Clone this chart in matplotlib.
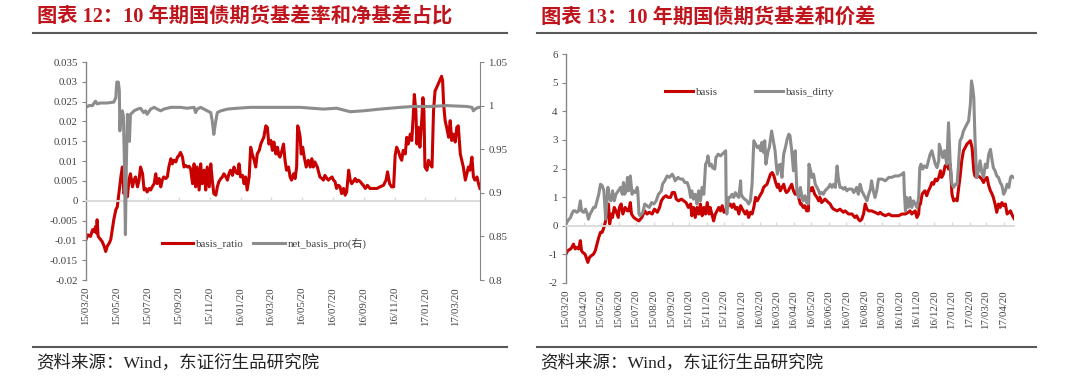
import pandas as pd
import matplotlib
matplotlib.use('Agg')
import matplotlib.pyplot as plt
from matplotlib.ticker import MultipleLocator, FuncFormatter
from matplotlib.lines import Line2D
import matplotlib.dates as mdates

plt.rcParams['font.family'] = ['Liberation Serif', 'Noto Sans CJK SC', 'DejaVu Sans']

START = '2015-03-20'
END = '2017-05-08'

left_title = '图表 12：10 年期国债期货基差率和净基差占比'
right_title = '图表 13：10 年期国债期货基差和价差'
source_text = '资料来源：Wind，东证衍生品研究院'
ratio_label = 'basis_ratio'
netpro_label = 'net_basis_pro(右)'
basis_label = 'basis'
dirty_label = 'basis_dirty'

left_ticks = ['2015-03-20', '2015-05-20', '2015-07-20', '2015-09-20', '2015-11-20',
              '2016-01-20', '2016-03-20', '2016-05-20', '2016-07-20', '2016-09-20',
              '2016-11-20', '2017-01-20', '2017-03-20']
right_ticks = ['2015-03-20', '2015-04-20', '2015-05-20', '2015-06-20', '2015-07-20',
               '2015-08-20', '2015-09-20', '2015-10-20', '2015-11-20', '2015-12-20',
               '2016-01-20', '2016-02-20', '2016-03-20', '2016-04-20', '2016-05-20',
               '2016-06-20', '2016-07-20', '2016-08-20', '2016-09-20', '2016-10-20',
               '2016-11-20', '2016-12-20', '2017-01-20', '2017-02-20', '2017-03-20',
               '2017-04-20']

# (days since START, value)
ratio_pts = [
    (0, -0.0098), (4, -0.0086), (9, -0.0090), (13, -0.0073), (16, -0.0078), (19, -0.0065),
    (21, -0.0082), (22, -0.0048), (24, -0.0090), (29, -0.0098), (32, -0.0103), (36, -0.0115),
    (39, -0.0128), (42, -0.0115), (46, -0.0107), (49, -0.0098), (52, -0.0073), (55, -0.0048),
    (59, -0.0023), (62, -0.0015), (65, 0.0018), (69, 0.0060), (72, 0.0085), (75, 0.0018),
    (79, 0.0035), (82, 0.0010), (85, 0.0052), (88, 0.0068), (92, 0.0035), (95, 0.0052),
    (98, 0.0060), (102, 0.0035), (105, 0.0052), (108, 0.0085), (112, 0.0068), (115, 0.0027),
    (118, 0.0031), (121, 0.0022), (125, 0.0031), (128, 0.0027), (131, 0.0035), (135, 0.0043),
    (138, 0.0068), (141, 0.0043), (145, 0.0056), (148, 0.0035), (151, 0.0052), (154, 0.0060),
    (158, 0.0056), (161, 0.0060), (164, 0.0085), (168, 0.0106), (171, 0.0093), (174, 0.0102),
    (178, 0.0098), (181, 0.0110), (184, 0.0114), (187, 0.0122), (191, 0.0110), (194, 0.0085),
    (197, 0.0089), (201, 0.0085), (204, 0.0087), (207, 0.0081), (211, 0.0043), (214, 0.0093),
    (217, 0.0035), (220, 0.0085), (224, 0.0027), (227, 0.0093), (230, 0.0043), (234, 0.0077),
    (237, 0.0027), (240, 0.0085), (244, 0.0035), (247, 0.0093), (250, 0.0052), (253, 0.0018),
    (257, 0.0014), (260, 0.0035), (263, 0.0048), (267, 0.0056), (270, 0.0060), (273, 0.0068),
    (277, 0.0060), (280, 0.0052), (283, 0.0068), (286, 0.0077), (290, 0.0064), (293, 0.0085),
    (296, 0.0073), (300, 0.0068), (303, 0.0093), (306, 0.0060), (310, 0.0064), (313, 0.0043),
    (316, 0.0060), (319, 0.0027), (323, 0.0060), (326, 0.0135), (329, 0.0118), (333, 0.0102),
    (336, 0.0085), (339, 0.0118), (343, 0.0127), (346, 0.0143), (349, 0.0152), (352, 0.0160),
    (356, 0.0189), (359, 0.0185), (362, 0.0143), (366, 0.0152), (369, 0.0127), (372, 0.0148),
    (376, 0.0118), (379, 0.0135), (382, 0.0114), (384, 0.0110), (388, 0.0127), (391, 0.0143),
    (394, 0.0102), (397, 0.0077), (401, 0.0085), (404, 0.0060), (407, 0.0052), (411, 0.0068),
    (414, 0.0056), (417, 0.0085), (419, 0.0189), (421, 0.0181), (424, 0.0160), (426, 0.0118),
    (429, 0.0135), (432, 0.0110), (436, 0.0085), (440, 0.0102), (444, 0.0085), (447, 0.0106),
    (450, 0.0085), (453, 0.0098), (458, 0.0085), (463, 0.0060), (467, 0.0056), (470, 0.0052),
    (473, 0.0064), (477, 0.0056), (480, 0.0052), (483, 0.0056), (487, 0.0060), (490, 0.0052),
    (493, 0.0048), (496, 0.0031), (500, 0.0039), (503, 0.0035), (506, 0.0018), (510, 0.0031),
    (513, 0.0014), (516, 0.0022), (520, 0.0077), (523, 0.0052), (526, 0.0043), (529, 0.0048),
    (533, 0.0056), (536, 0.0048), (539, 0.0052), (543, 0.0048), (546, 0.0043), (549, 0.0039),
    (553, 0.0031), (557, 0.0039), (562, 0.0031), (569, 0.0031), (576, 0.0031), (582, 0.0035),
    (589, 0.0039), (594, 0.0052), (597, 0.0073), (601, 0.0043), (605, 0.0035), (609, 0.0035),
    (612, 0.0114), (615, 0.0135), (619, 0.0123), (622, 0.0110), (625, 0.0102), (628, 0.0127),
    (632, 0.0118), (635, 0.0160), (638, 0.0143), (642, 0.0168), (645, 0.0152), (648, 0.0218),
    (650, 0.0268), (653, 0.0227), (655, 0.0143), (658, 0.0185), (661, 0.0135), (665, 0.0210),
    (667, 0.0260), (669, 0.0227), (671, 0.0085), (675, 0.0077), (678, 0.0102), (681, 0.0093),
    (685, 0.0085), (688, 0.0227), (691, 0.0277), (694, 0.0285), (700, 0.0302), (704, 0.0314),
    (706, 0.0302), (708, 0.0243), (711, 0.0202), (714, 0.0185), (718, 0.0160), (721, 0.0202),
    (724, 0.0152), (727, 0.0168), (731, 0.0148), (734, 0.0185), (737, 0.0189), (741, 0.0118),
    (744, 0.0102), (747, 0.0085), (751, 0.0052), (754, 0.0068), (757, 0.0085), (760, 0.0077),
    (764, 0.0110), (767, 0.0060), (770, 0.0052), (774, 0.0060), (777, 0.0043), (780, 0.0031),
]

netpro_pts = [
    (0, 0.998), (6, 1.000), (13, 1.000), (16, 1.003), (19, 1.005), (22, 1.002), (29, 1.003),
    (42, 1.003), (55, 1.004), (59, 1.009), (61, 1.027), (64, 1.027), (66, 1.017), (67, 0.971),
    (69, 0.992), (72, 0.994), (74, 0.988), (76, 0.936), (78, 0.852), (80, 0.936), (82, 0.990),
    (84, 0.988), (86, 0.959), (88, 0.990), (92, 0.992), (95, 0.994), (102, 0.996), (108, 0.997),
    (114, 0.992), (118, 0.994), (121, 0.990), (128, 0.996), (135, 0.998), (141, 0.996),
    (148, 0.994), (154, 0.996), (168, 0.998), (187, 0.998), (200, 0.997), (214, 0.998),
    (217, 0.992), (220, 0.996), (227, 0.998), (240, 0.994), (247, 0.992), (250, 0.982),
    (253, 0.967), (255, 0.975), (258, 0.986), (260, 0.992), (267, 0.994), (280, 0.996),
    (300, 0.997), (326, 0.998), (359, 0.998), (384, 0.998), (424, 0.998), (470, 0.996),
    (496, 0.997), (523, 0.993), (549, 0.994), (582, 0.996), (622, 0.998), (648, 0.999),
    (681, 0.999), (714, 1.000), (754, 0.999), (764, 0.998), (767, 0.994), (770, 0.996),
    (777, 0.998), (780, 0.998),
]

basis_pts = [
    (0, -0.99), (3, -0.87), (8, -0.81), (10, -0.76), (13, -0.64), (16, -0.81), (19, -0.76),
    (22, -0.81), (25, -0.52), (27, -0.87), (29, -0.93), (33, -0.99), (35, -1.10), (38, -1.28),
    (41, -1.10), (44, -1.05), (48, -0.99), (51, -0.87), (54, -0.64), (57, -0.41), (60, -0.23),
    (63, -0.23), (66, -0.06), (69, 0.17), (71, 0.41), (74, 0.76), (76, 0.06), (79, 0.41),
    (81, 0.29), (84, 0.64), (87, 0.52), (91, 0.29), (93, 0.64), (96, 0.76), (99, 0.41),
    (103, 0.64), (107, 0.52), (109, 0.52), (112, 0.81), (114, 0.41), (118, 0.29), (122, 0.23),
    (127, 0.17), (132, 0.29), (137, 0.52), (141, 0.41), (145, 0.47), (150, 0.41), (154, 0.58),
    (159, 0.47), (163, 0.64), (166, 0.87), (170, 0.99), (174, 1.05), (178, 0.99), (182, 0.99),
    (185, 1.16), (189, 1.16), (192, 0.93), (196, 0.87), (201, 0.93), (205, 0.87), (209, 0.81),
    (213, 0.64), (217, 0.76), (219, 0.35), (222, 0.64), (225, 0.29), (228, 0.64), (231, 0.41),
    (234, 0.76), (237, 0.35), (240, 0.64), (243, 0.41), (246, 0.81), (249, 0.41), (251, 0.64),
    (254, 0.41), (257, 0.17), (260, 0.41), (263, 0.52), (266, 0.64), (269, 0.52), (272, 0.70),
    (275, 0.47), (278, 0.52), (280, 0.64), (283, 0.70), (286, 0.76), (289, 0.64), (292, 0.76),
    (295, 0.58), (298, 0.64), (301, 0.41), (304, 0.70), (307, 0.58), (309, 0.52), (312, 0.41),
    (315, 0.52), (318, 0.29), (321, 0.47), (324, 0.41), (327, 0.64), (330, 0.99), (333, 0.87),
    (336, 0.99), (339, 1.10), (341, 1.16), (344, 1.34), (347, 1.40), (350, 1.45), (353, 1.63),
    (356, 1.80), (359, 1.86), (362, 1.74), (365, 1.51), (368, 1.34), (370, 1.45), (373, 1.22),
    (376, 1.34), (379, 1.45), (382, 1.22), (384, 1.16), (387, 1.22), (390, 1.34), (393, 1.45),
    (396, 1.22), (399, 1.10), (402, 1.22), (405, 0.99), (408, 0.76), (410, 0.76), (413, 0.64),
    (416, 0.70), (419, 0.52), (422, 0.52), (423, 1.34), (427, 1.22), (429, 1.34), (433, 1.10),
    (437, 0.99), (440, 0.87), (442, 0.99), (445, 0.81), (448, 0.87), (451, 0.93), (454, 0.87),
    (457, 0.81), (460, 0.76), (463, 0.64), (466, 0.58), (472, 0.52), (477, 0.58), (483, 0.47),
    (486, 0.52), (492, 0.41), (498, 0.41), (503, 0.29), (506, 0.35), (509, 0.23), (512, 0.17),
    (515, 0.23), (518, 0.41), (521, 0.76), (524, 0.58), (527, 0.52), (532, 0.52), (538, 0.47),
    (544, 0.41), (547, 0.47), (550, 0.41), (556, 0.35), (562, 0.41), (567, 0.35), (573, 0.35),
    (579, 0.35), (585, 0.41), (591, 0.41), (596, 0.47), (599, 0.52), (602, 0.41), (605, 0.47),
    (608, 0.52), (611, 0.29), (614, 0.41), (615, 0.70), (617, 0.76), (620, 1.10), (622, 1.16),
    (625, 1.22), (628, 1.05), (631, 1.22), (634, 1.34), (637, 1.51), (640, 1.45), (643, 1.63),
    (646, 1.57), (649, 1.69), (652, 1.92), (654, 1.69), (657, 1.80), (660, 2.09), (663, 2.15),
    (666, 1.98), (669, 2.15), (672, 1.10), (675, 0.87), (678, 0.93), (681, 0.87), (683, 1.22),
    (686, 1.69), (689, 2.27), (692, 2.62), (695, 2.73), (698, 2.85), (701, 2.91), (704, 2.97),
    (707, 2.73), (710, 1.92), (712, 1.74), (715, 1.69), (718, 1.74), (721, 1.69), (724, 1.63),
    (727, 1.51), (730, 1.63), (733, 1.69), (736, 1.40), (739, 1.22), (742, 1.10), (744, 0.99),
    (747, 0.76), (750, 0.47), (753, 0.76), (756, 0.64), (759, 0.81), (762, 0.70), (765, 0.76),
    (768, 0.41), (771, 0.47), (774, 0.52), (776, 0.41), (779, 0.29), (781, 0.23),
]

dirty_pts = [
    (0, 0.06), (3, 0.17), (8, 0.29), (10, 0.41), (13, 0.52), (16, 0.52), (19, 0.47), (22, 0.52),
    (25, 0.87), (27, 0.52), (31, 0.47), (34, 0.58), (37, 0.41), (39, 0.23), (42, 0.41),
    (45, 0.52), (48, 0.64), (51, 0.64), (54, 0.87), (57, 1.10), (60, 1.45), (63, 1.40),
    (66, 1.22), (69, 0.23), (70, 0.52), (73, 1.34), (75, 0.99), (78, 0.87), (81, 1.22),
    (84, 0.87), (87, 1.10), (91, 1.22), (95, 1.34), (98, 1.10), (100, 1.51), (102, 1.10),
    (105, 1.22), (107, 1.69), (109, 1.22), (112, 1.74), (115, 1.10), (118, 1.22), (121, 1.16),
    (124, 1.34), (125, 1.22), (127, 0.41), (129, 0.35), (134, 0.47), (137, 0.76), (141, 0.70),
    (145, 0.64), (149, 0.81), (153, 0.76), (157, 0.87), (161, 1.10), (166, 1.22), (168, 1.45),
    (172, 1.57), (176, 1.74), (180, 1.69), (185, 1.80), (188, 1.69), (190, 1.57), (195, 1.69),
    (199, 1.63), (203, 1.63), (207, 1.51), (211, 1.51), (214, 1.34), (217, 0.99), (219, 1.22),
    (222, 0.93), (225, 1.10), (228, 0.76), (231, 1.22), (234, 0.87), (237, 1.34), (240, 1.10),
    (243, 2.15), (246, 2.27), (247, 2.44), (250, 2.09), (253, 2.15), (255, 2.03), (259, 1.98),
    (261, 2.38), (265, 2.50), (269, 2.44), (272, 2.50), (275, 2.56), (278, 2.62), (279, 0.64),
    (280, 0.41), (283, 0.99), (286, 0.99), (289, 1.10), (292, 0.99), (295, 1.16), (298, 1.05),
    (301, 0.99), (304, 1.57), (305, 1.10), (308, 0.99), (311, 0.93), (315, 0.87), (318, 0.76),
    (321, 0.87), (324, 1.45), (327, 2.97), (330, 2.85), (333, 2.73), (336, 2.79), (339, 2.62),
    (341, 2.91), (344, 2.56), (346, 2.97), (348, 2.15), (352, 2.62), (354, 2.73), (358, 3.31),
    (360, 3.08), (364, 2.62), (366, 2.15), (368, 1.80), (370, 2.09), (373, 2.15), (376, 1.69),
    (379, 2.50), (382, 2.73), (385, 3.02), (388, 3.20), (390, 3.14), (393, 2.62), (396, 1.92),
    (399, 2.62), (402, 1.22), (405, 0.99), (408, 1.34), (411, 0.99), (413, 0.87), (416, 1.05),
    (419, 0.81), (422, 0.76), (423, 2.15), (426, 1.92), (428, 1.69), (431, 1.80), (434, 1.45),
    (437, 1.34), (440, 1.22), (442, 1.10), (445, 1.16), (448, 1.10), (451, 1.22), (454, 1.28),
    (457, 1.34), (460, 1.45), (463, 1.34), (466, 1.45), (469, 1.34), (472, 2.09), (474, 1.69),
    (477, 1.34), (480, 1.34), (483, 1.28), (486, 1.34), (489, 1.22), (492, 1.28), (498, 1.28),
    (501, 1.16), (503, 1.22), (506, 1.34), (509, 1.10), (512, 1.45), (515, 1.22), (518, 1.10),
    (521, 0.99), (524, 0.87), (527, 1.10), (530, 1.28), (532, 1.57), (535, 1.22), (538, 0.99),
    (541, 1.22), (544, 1.63), (550, 1.63), (556, 1.57), (562, 1.69), (567, 1.69), (573, 1.74),
    (579, 1.74), (585, 1.80), (588, 1.86), (589, 1.22), (591, 0.52), (593, 0.99), (596, 0.64),
    (599, 0.99), (602, 0.64), (605, 0.87), (608, 0.76), (611, 0.64), (614, 0.99), (616, 2.03),
    (618, 2.15), (621, 1.98), (624, 2.09), (628, 2.03), (631, 2.27), (634, 2.50), (637, 2.62),
    (640, 2.38), (643, 2.15), (646, 2.03), (649, 2.27), (650, 2.85), (653, 2.62), (656, 2.38),
    (659, 2.62), (663, 2.15), (666, 3.60), (669, 2.15), (672, 1.45), (675, 1.34), (678, 1.45),
    (681, 1.45), (683, 2.03), (686, 2.97), (689, 3.08), (692, 3.31), (695, 3.43), (698, 3.55),
    (701, 3.66), (704, 4.24), (706, 5.06), (708, 4.83), (710, 4.48), (712, 3.08), (715, 1.69),
    (718, 1.92), (721, 2.27), (724, 1.86), (727, 1.69), (730, 2.15), (733, 2.03), (736, 2.50),
    (739, 2.67), (742, 2.27), (744, 2.03), (747, 1.92), (750, 1.74), (753, 1.69), (756, 1.51),
    (759, 1.40), (762, 1.10), (765, 1.22), (768, 1.45), (771, 1.34), (774, 1.69), (776, 1.74),
    (779, 1.69),
]

RED = '#C80000'
GRAY = '#8C8C8C'
TITLE_RED = '#C0141C'
AXIS_GRAY = '#868686'
ZERO_GRAY = '#D9D9D9'
TEXT = '#404040'
LW = 2.2

start = pd.Timestamp(START)


def to_series(pts):
    d = start + pd.to_timedelta([p[0] for p in pts], unit='D')
    v = [p[1] for p in pts]
    return d, v


W, H = 1068, 377
fig = plt.figure(figsize=(W / 100, H / 100), dpi=100)


def fr(x0, y_top, x1, y_bot):
    return [x0 / W, 1 - y_bot / H, (x1 - x0) / W, (y_bot - y_top) / H]


def style_date_axis(ax, ticks):
    tick_nums = mdates.date2num(pd.to_datetime(ticks))
    labels = [pd.Timestamp(t).strftime('%y/%m/%d') for t in ticks]
    ax.spines['top'].set_visible(False)
    ax.spines['right'].set_visible(False)
    ax.spines['bottom'].set_position(('data', 0))
    ax.spines['bottom'].set_color(ZERO_GRAY)
    ax.spines['bottom'].set_linewidth(1.3)
    ax.spines['left'].set_color(AXIS_GRAY)
    ax.spines['left'].set_linewidth(1.0)
    ax.set_xticks(tick_nums)
    ax.tick_params(axis='x', direction='in', length=3, color=ZERO_GRAY, width=1,
                   labelbottom=False)
    sec = ax.secondary_xaxis('bottom')
    sec.set_xticks(tick_nums, labels=labels)
    sec.tick_params(axis='x', length=0, pad=5, labelsize=7.8, labelcolor=TEXT,
                    labelrotation=90)
    sec.spines['bottom'].set_visible(False)
    ax.tick_params(axis='y', direction='out', length=3, color=AXIS_GRAY, labelsize=7.8,
                   labelcolor=TEXT, pad=3)


gfmt = FuncFormatter(lambda v, p: '%g' % round(v, 6))

# ---------------- Left chart ----------------
axL = fig.add_axes(fr(86, 62, 480, 280))
d, v = to_series(ratio_pts)
lr, = axL.plot(d, v, color=RED, lw=LW, solid_joinstyle='round')
axL.set_xlim(mdates.date2num(pd.Timestamp(START)), mdates.date2num(pd.Timestamp(END)))
axL.set_ylim(-0.02, 0.035)
axL.yaxis.set_major_locator(MultipleLocator(0.005))
axL.yaxis.set_major_formatter(gfmt)
style_date_axis(axL, left_ticks)

axR = axL.twinx()
d, v = to_series(netpro_pts)
lg, = axR.plot(d, v, color=GRAY, lw=LW, solid_joinstyle='round')
axR.set_ylim(0.8, 1.05)
axR.yaxis.set_major_locator(MultipleLocator(0.05))
axR.yaxis.set_major_formatter(gfmt)
for s in ['top', 'left', 'bottom']:
    axR.spines[s].set_visible(False)
axR.spines['right'].set_color(AXIS_GRAY)
axR.tick_params(axis='y', direction='out', length=3, color=AXIS_GRAY, labelsize=7.8,
                labelcolor=TEXT, pad=3)

axR.legend([lr, lg], [ratio_label, netpro_label], loc='center',
           bbox_to_anchor=(0.452, 0.17), bbox_transform=axL.transAxes, ncol=2,
           frameon=False, fontsize=7.8, handlelength=2.9, handletextpad=0.25,
           columnspacing=0.9, labelcolor=TEXT)

# ---------------- Right chart ----------------
ax2 = fig.add_axes(fr(566, 54, 1014, 283))
d, v = to_series(basis_pts)
l1, = ax2.plot(d, v, color=RED, lw=LW, solid_joinstyle='round')
d, v = to_series(dirty_pts)
l2, = ax2.plot(d, v, color=GRAY, lw=LW, solid_joinstyle='round')
ax2.set_xlim(mdates.date2num(pd.Timestamp(START)), mdates.date2num(pd.Timestamp(END)))
ax2.set_ylim(-2, 6)
ax2.yaxis.set_major_locator(MultipleLocator(1))
ax2.yaxis.set_major_formatter(gfmt)
style_date_axis(ax2, right_ticks)
ax2.legend([l1, l2], [basis_label, dirty_label], loc='center',
           bbox_to_anchor=(0.41, 0.834), ncol=2, frameon=False, fontsize=7.8,
           handlelength=2.6, handletextpad=0.25, columnspacing=3.4, labelcolor=TEXT)

# ---------------- Titles, rules, sources ----------------
for x0, x1, title in [(33, 507, left_title), (537, 1036, right_title)]:
    fig.text((x0 + 4) / W, 1 - 18 / H, title, color=TITLE_RED, fontsize=14.6,
             fontweight='bold', ha='left', va='center')
    fig.add_artist(Line2D([x0 / W, x1 / W], [1 - 33 / H, 1 - 33 / H], color='#595959', lw=1.5))
    fig.add_artist(Line2D([x0 / W, x1 / W], [1 - 347 / H, 1 - 347 / H], color='#595959', lw=1.5))
    fig.text((x0 + 3) / W, 1 - 363 / H, source_text, color='#222222', fontsize=12.6,
             ha='left', va='center')

fig.savefig('out.png', dpi=100)
